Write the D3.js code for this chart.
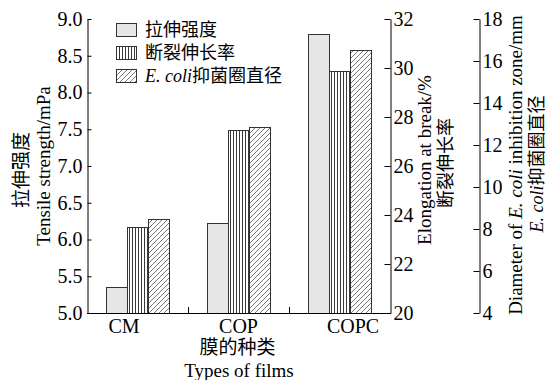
<!DOCTYPE html>
<html>
<head>
<meta charset="utf-8">
<script src="https://cdn.jsdelivr.net/npm/d3@7"></script>
<style>
  body { margin: 0; background: #fff; }
  svg { display: block; }
</style>
</head>
<body>
<div id="chart"></div>
<script>
// Data
const categories = ['CM', 'COP', 'COPC'];
const seriesKeys = ['tensile', 'elongation', 'inhibition'];
const tensileStrength = [5.35, 6.22, 8.79];
const elongationAtBreak = [23.5, 27.47, 29.86];
const inhibitionZone = [8.5, 12.84, 16.52];
const tensileTicks = [5.0, 5.5, 6.0, 6.5, 7.0, 7.5, 8.0, 8.5, 9.0];
const elongationTicks = [20, 22, 24, 26, 28, 30, 32];
const inhibitionTicks = [4, 6, 8, 10, 12, 14, 16, 18];

// Constant
const width = 548;
const height = 380;
const plot = {left: 87, right: 390, top: 19, bottom: 313};
const thirdAxisX = 479;
const serif = '"Liberation Serif", "Times New Roman", "Noto Sans CJK SC", serif';
const tickFont = '20px';
const titleFont = '19px';

const svg = d3.select('#chart')
    .append('svg')
        .attr('width', width)
        .attr('height', height);

const defs = svg.append('defs');

// vertical stripes
const vs = defs.append('pattern')
    .attr('id', 'vstripe')
    .attr('patternUnits', 'userSpaceOnUse')
    .attr('width', 3).attr('height', 6);
vs.append('rect').attr('width', 3).attr('height', 6).attr('fill', '#fff');
vs.append('line')
    .attr('x1', 0.5).attr('x2', 0.5).attr('y1', 0).attr('y2', 6)
    .attr('stroke', '#222').attr('stroke-width', 0.9);

// diagonal hatch
const hs = defs.append('pattern')
    .attr('id', 'hatch')
    .attr('patternUnits', 'userSpaceOnUse')
    .attr('width', 5).attr('height', 5);
hs.append('rect').attr('width', 5).attr('height', 5).attr('fill', '#fff');
hs.append('path')
    .attr('d', 'M0,5 L5,0 M-1,1 L1,-1 M4,6 L6,4')
    .attr('stroke', '#555').attr('stroke-width', 0.8);

const fills = {tensile: '#e6e6e7', elongation: 'url(#vstripe)', inhibition: 'url(#hatch)'};

// Scales
const x0 = d3.scaleBand().domain(categories).range([plot.left, plot.right]).padding(0);
const x1 = d3.scaleBand().domain(seriesKeys).range([0, x0.bandwidth()])
    .paddingInner(0).paddingOuter(0.94);
const yTensile = d3.scaleLinear().domain([5, 9]).range([plot.bottom, plot.top]);
const yElong = d3.scaleLinear().domain([20, 32]).range([plot.bottom, plot.top]);
const yInhib = d3.scaleLinear().domain([4, 18]).range([plot.bottom, plot.top]);
const labelX = d3.scalePoint().domain(categories).range([124, 353]);

const scales = {tensile: yTensile, elongation: yElong, inhibition: yInhib};
const values = {tensile: tensileStrength, elongation: elongationAtBreak, inhibition: inhibitionZone};

const rows = categories.map((c, i) => ({
    cat: c,
    items: seriesKeys.map(k => ({key: k, value: values[k][i]}))
}));

// Bars
const groups = svg.selectAll('.group')
    .data(rows)
    .enter()
    .append('g')
        .attr('class', 'group')
        .attr('transform', d => `translate(${Math.round(x0(d.cat))},0)`);

groups.selectAll('rect')
    .data(d => d.items)
    .enter()
    .append('rect')
        .attr('x', d => Math.round(x1(d.key)) + 0.5)
        .attr('y', d => Math.round(scales[d.key](d.value)) + 0.5)
        .attr('width', d => Math.round(x1.bandwidth()))
        .attr('height', d => plot.bottom - Math.round(scales[d.key](d.value)))
        .attr('fill', d => fills[d.key])
        .attr('stroke', '#333')
        .attr('stroke-width', 1);

// Axes
function styleAxis(sel) {
    sel.selectAll('path, line').attr('stroke', '#000').attr('stroke-width', 1);
    sel.selectAll('text')
        .style('font-family', serif)
        .style('font-size', tickFont)
        .attr('fill', '#000');
}

const leftAxis = svg.append('g')
    .attr('transform', `translate(${plot.left + 0.5},0)`)
    .call(d3.axisLeft(yTensile).tickValues(tensileTicks).tickFormat(d3.format('.1f'))
        .tickSizeInner(-4).tickSizeOuter(0).tickPadding(5));
styleAxis(leftAxis);

const elongAxis = svg.append('g')
    .attr('transform', `translate(${plot.right + 0.5},0)`)
    .call(d3.axisRight(yElong).tickValues(elongationTicks)
        .tickSizeInner(-6).tickSizeOuter(0).tickPadding(3));
styleAxis(elongAxis);

const inhibAxis = svg.append('g')
    .attr('transform', `translate(${thirdAxisX + 0.5},0)`)
    .call(d3.axisRight(yInhib).tickValues(inhibitionTicks)
        .tickSizeInner(-6).tickSizeOuter(0).tickPadding(3));
styleAxis(inhibAxis);

// bottom line and separators
svg.append('line')
    .attr('x1', plot.left).attr('x2', plot.right + 1)
    .attr('y1', plot.bottom + 0.5).attr('y2', plot.bottom + 0.5)
    .attr('stroke', '#000');

svg.selectAll('.sep')
    .data(categories.slice(1))
    .enter()
    .append('line')
        .attr('class', 'sep')
        .attr('x1', d => Math.round(x0(d)) + 0.5)
        .attr('x2', d => Math.round(x0(d)) + 0.5)
        .attr('y1', plot.bottom)
        .attr('y2', plot.bottom - 6)
        .attr('stroke', '#000');

svg.selectAll('.catLabel')
    .data(categories)
    .enter()
    .append('text')
        .attr('class', 'catLabel')
        .attr('x', d => labelX(d))
        .attr('y', 333)
        .attr('text-anchor', 'middle')
        .style('font-family', serif)
        .style('font-size', tickFont)
        .text(d => d);

// Axis titles
svg.append('text')
    .attr('x', 237.5).attr('y', 354)
    .attr('text-anchor', 'middle')
    .style('font-family', serif).style('font-size', titleFont)
    .text('膜的种类');

svg.append('text')
    .attr('x', 239).attr('y', 377)
    .attr('text-anchor', 'middle')
    .style('font-family', serif).style('font-size', titleFont)
    .text('Types of films');

function vTitle(cx, cy, size) {
    return svg.append('text')
        .attr('transform', `translate(${cx},${cy}) rotate(-90)`)
        .attr('dy', '0.35em')
        .attr('text-anchor', 'middle')
        .style('font-family', serif)
        .style('font-size', size || titleFont);
}

vTitle(21, 170).text('拉伸强度');
vTitle(43, 166).text('Tensile strength/mPa');
vTitle(424.5, 160).text('Elongation at break/%');
vTitle(446, 163, '18px').text('断裂伸长率');

const d1 = vTitle(515, 165);
d1.append('tspan').text('Diameter of ');
d1.append('tspan').style('font-style', 'italic').text('E. coli');
d1.append('tspan').text(' inhibition zone/mm');

const d2 = vTitle(537, 164, '18px');
d2.append('tspan').style('font-style', 'italic').text('E. coli');
d2.append('tspan').text('抑菌圈直径');

// Legend
const legendData = [
    {key: 'tensile', label: '拉伸强度'},
    {key: 'elongation', label: '断裂伸长率'},
    {key: 'inhibition', italic: 'E. coli', label: '抑菌圈直径'}
];
const legendY = d3.scalePoint().domain(seriesKeys).range([30, 76]);

const legend = svg.selectAll('.legend')
    .data(legendData)
    .enter()
    .append('g')
        .attr('class', 'legend')
        .attr('transform', d => `translate(116,${legendY(d.key)})`);

legend.append('rect')
    .attr('x', 0.5).attr('y', -6.5)
    .attr('width', 20).attr('height', 13)
    .attr('fill', d => fills[d.key])
    .attr('stroke', '#333');

const lt = legend.append('text')
    .attr('x', 29)
    .attr('dy', '0.35em')
    .style('font-family', serif)
    .style('font-size', '18px');
lt.filter(d => d.italic).append('tspan').style('font-style', 'italic').text(d => d.italic);
lt.append('tspan').text(d => d.label);
</script>
</body>
</html>
